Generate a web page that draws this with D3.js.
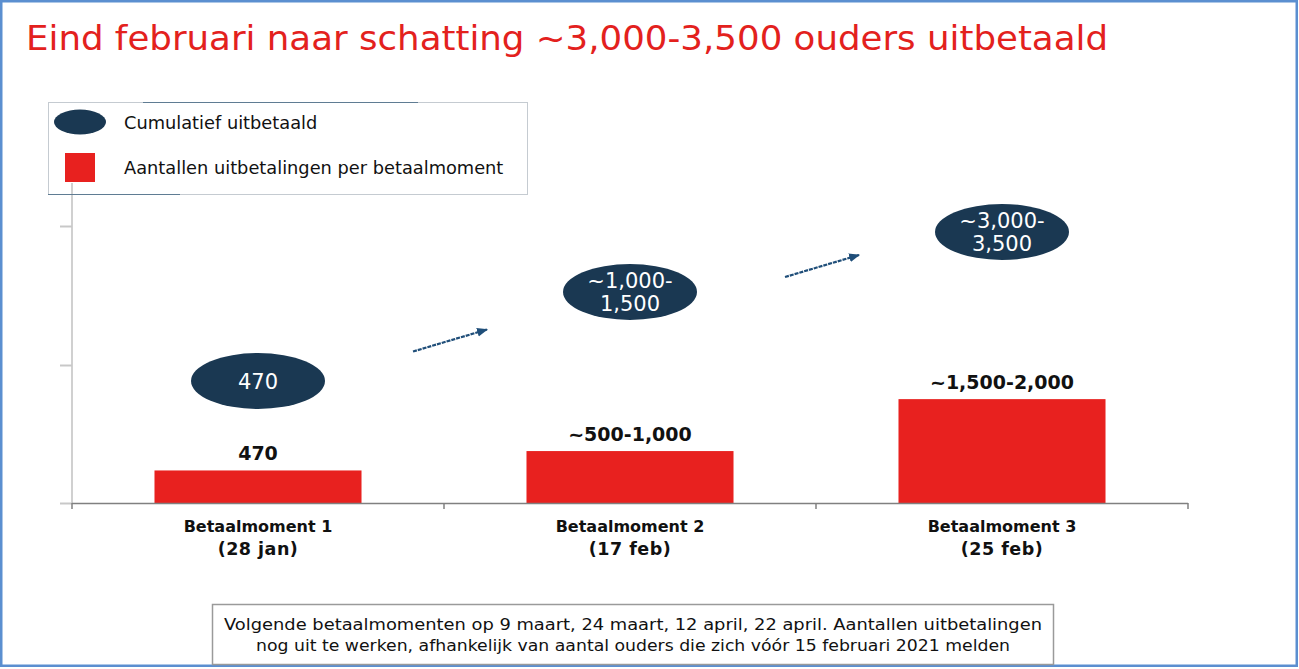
<!DOCTYPE html>
<html>
<head>
<meta charset="utf-8">
<script src="https://cdn.jsdelivr.net/npm/d3@7"></script>
<style>
  html, body { margin: 0; padding: 0; background: #fff; }
  svg { display: block; }
</style>
</head>
<body>
<svg id="chart" width="1299" height="669"></svg>
<script>
// ---------------- data ----------------
const title = "Eind februari naar schatting ~3,000-3,500 ouders uitbetaald";
const categories = ["Betaalmoment 1", "Betaalmoment 2", "Betaalmoment 3"];
const categoryDates = ["(28 jan)", "(17 feb)", "(25 feb)"];
const barValues = [470, 750, 1500];
const barLabels = ["470", "~500-1,000", "~1,500-2,000"];
const cumulativeLabels = [["470"], ["~1,000-", "1,500"], ["~3,000-", "3,500"]];
const yTicks = [0, 2000, 4000];
const legendLabels = ["Cumulatief uitbetaald", "Aantallen uitbetalingen per betaalmoment"];
const noteLines = [
  "Volgende betaalmomenten op 9 maart, 24 maart, 12 april, 22 april. Aantallen uitbetalingen",
  "nog uit te werken, afhankelijk van aantal ouders die zich vóór 15 februari 2021 melden"
];

// ---------------- layout / style ----------------
const RED = "#e8211f", NAVY = "#1a3852", TITLE_RED = "#e3211d";
const FONT = "'DejaVu Sans', Verdana, sans-serif";
const plot = { left: 72, right: 1188, bottom: 503, top: 226 };
const bubbleY = [381, 292, 232];   // vertical placement of cumulative bubbles (annotation layout)

const svg = d3.select("#chart");

// outer frame
svg.append("rect").attr("x", 1.25).attr("y", 1.25).attr("width", 1295.5).attr("height", 664.5)
  .attr("fill", "#fff").attr("stroke", "#5b8fd0").attr("stroke-width", 2.5);

// title
svg.append("text").attr("x", 26).attr("y", 50)
  .attr("font-family", FONT).attr("font-size", 34).attr("fill", TITLE_RED)
  .attr("textLength", 1082).attr("lengthAdjust", "spacingAndGlyphs")
  .text(title);

// scales
const x = d3.scaleBand().domain(categories).range([plot.left, plot.right])
  .paddingInner(0.4435).paddingOuter(0.22175);
const y = d3.scaleLinear().domain([0, 4000]).range([plot.bottom, plot.top]);

// y axis (light grey, no labels)
svg.append("line").attr("x1", plot.left).attr("x2", plot.left)
  .attr("y1", 183).attr("y2", plot.bottom)
  .attr("stroke", "#d0d0d0").attr("stroke-width", 2);
svg.append("g").selectAll("line").data(yTicks).join("line")
  .attr("x1", plot.left - 12).attr("x2", plot.left)
  .attr("y1", d => Math.round(y(d)) + 0.5).attr("y2", d => Math.round(y(d)) + 0.5)
  .attr("stroke", "#c8c8c8").attr("stroke-width", 2);

// bars
svg.append("g").selectAll("rect").data(barValues).join("rect")
  .attr("x", (d, i) => x(categories[i]))
  .attr("width", x.bandwidth())
  .attr("y", d => y(d))
  .attr("height", d => y(0) - y(d))
  .attr("fill", RED);

// x axis
const step = x.step();
const boundaries = d3.range(categories.length + 1).map(i => plot.left + i * step);
svg.append("line").attr("x1", plot.left).attr("x2", plot.right)
  .attr("y1", plot.bottom + 0.5).attr("y2", plot.bottom + 0.5)
  .attr("stroke", "#808080").attr("stroke-width", 1.5);
svg.append("g").selectAll("line").data(boundaries).join("line")
  .attr("x1", d => d).attr("x2", d => d)
  .attr("y1", plot.bottom).attr("y2", plot.bottom + 6)
  .attr("stroke", "#808080").attr("stroke-width", 1.5);

// x labels
const xl = svg.append("g").attr("font-family", FONT)
  .attr("font-weight", "bold").attr("fill", "#111").attr("text-anchor", "middle");
xl.selectAll("text.cat").data(categories).join("text").attr("class", "cat")
  .attr("font-size", 16)
  .attr("x", d => x(d) + x.bandwidth() / 2).attr("y", 532).text(d => d);
xl.selectAll("text.date").data(categoryDates).join("text").attr("class", "date")
  .attr("font-size", 17.5).attr("letter-spacing", 0.5)
  .attr("x", (d, i) => x(categories[i]) + x.bandwidth() / 2).attr("y", 555).text(d => d);

// bar value labels
svg.append("g").selectAll("text").data(barLabels).join("text")
  .attr("x", (d, i) => x(categories[i]) + x.bandwidth() / 2)
  .attr("y", (d, i) => y(barValues[i]) - 10)
  .attr("text-anchor", "middle").attr("font-family", FONT).attr("font-size", 19)
  .attr("font-weight", "bold").attr("fill", "#111").text(d => d);

// cumulative bubbles
const bub = svg.append("g").selectAll("g").data(cumulativeLabels).join("g")
  .attr("transform", (d, i) => `translate(${x(categories[i]) + x.bandwidth() / 2},${bubbleY[i]})`);
bub.append("ellipse").attr("rx", 67).attr("ry", 28).attr("fill", NAVY);
bub.each(function (lines) {
  const g = d3.select(this);
  const lh = 23;
  lines.forEach((ln, j) => {
    g.append("text").attr("x", 0)
      .attr("y", (j - (lines.length - 1) / 2) * lh + 7.5)
      .attr("text-anchor", "middle").attr("font-family", FONT).attr("font-size", 21)
      .attr("fill", "#fff").text(ln);
  });
});

// arrows between bubbles
const defs = svg.append("defs");
defs.append("marker").attr("id", "ah").attr("viewBox", "0 0 10 10")
  .attr("refX", 9).attr("refY", 5).attr("markerWidth", 5).attr("markerHeight", 5)
  .attr("orient", "auto").attr("markerUnits", "strokeWidth")
  .append("path").attr("d", "M0,1 L10,5 L0,9 Z").attr("fill", "#1f4e79");
svg.append("g").selectAll("line").data(d3.range(categories.length - 1)).join("line")
  .attr("x1", i => boundaries[i + 1] - 31)
  .attr("x2", i => boundaries[i + 1] + 43)
  .attr("y1", i => (bubbleY[i] + bubbleY[i + 1]) / 2 + 15)
  .attr("y2", i => (bubbleY[i] + bubbleY[i + 1]) / 2 - 7)
  .attr("stroke", "#1f4e79").attr("stroke-width", 2.2)
  .attr("stroke-dasharray", "4,1").attr("marker-end", "url(#ah)");

// legend
const lg = svg.append("g");
lg.append("rect").attr("x", 48.5).attr("y", 102.5).attr("width", 479).attr("height", 92)
  .attr("fill", "none").attr("stroke", "#8a97a3").attr("stroke-width", 1)
  .attr("stroke-dasharray", "1,1");
lg.append("line").attr("x1", 143).attr("x2", 418).attr("y1", 102.5).attr("y2", 102.5)
  .attr("stroke", "#5f7c93").attr("stroke-width", 1.2);
lg.append("line").attr("x1", 48).attr("x2", 180).attr("y1", 194.5).attr("y2", 194.5)
  .attr("stroke", "#5f7c93").attr("stroke-width", 1.2);
lg.append("ellipse").attr("cx", 80).attr("cy", 122).attr("rx", 26).attr("ry", 12.5).attr("fill", NAVY);
lg.append("rect").attr("x", 65).attr("y", 153).attr("width", 30).attr("height", 29).attr("fill", RED);
lg.selectAll("text").data(legendLabels).join("text")
  .attr("x", 124).attr("y", (d, i) => 129 + i * 45)
  .attr("font-family", FONT).attr("font-size", 17.8).attr("fill", "#111").text(d => d);

// note box
svg.append("rect").attr("x", 212.5).attr("y", 604.5).attr("width", 841).attr("height", 60)
  .attr("fill", "#fff").attr("stroke", "#9a9a9a").attr("stroke-width", 1.5);
const noteWidths = [818, 754];
svg.append("g").selectAll("text").data(noteLines).join("text")
  .attr("x", 633).attr("y", (d, i) => 630 + i * 21)
  .attr("text-anchor", "middle").attr("font-family", FONT).attr("font-size", 16)
  .attr("fill", "#111")
  .attr("textLength", (d, i) => noteWidths[i]).attr("lengthAdjust", "spacingAndGlyphs")
  .text(d => d);
</script>
</body>
</html>
